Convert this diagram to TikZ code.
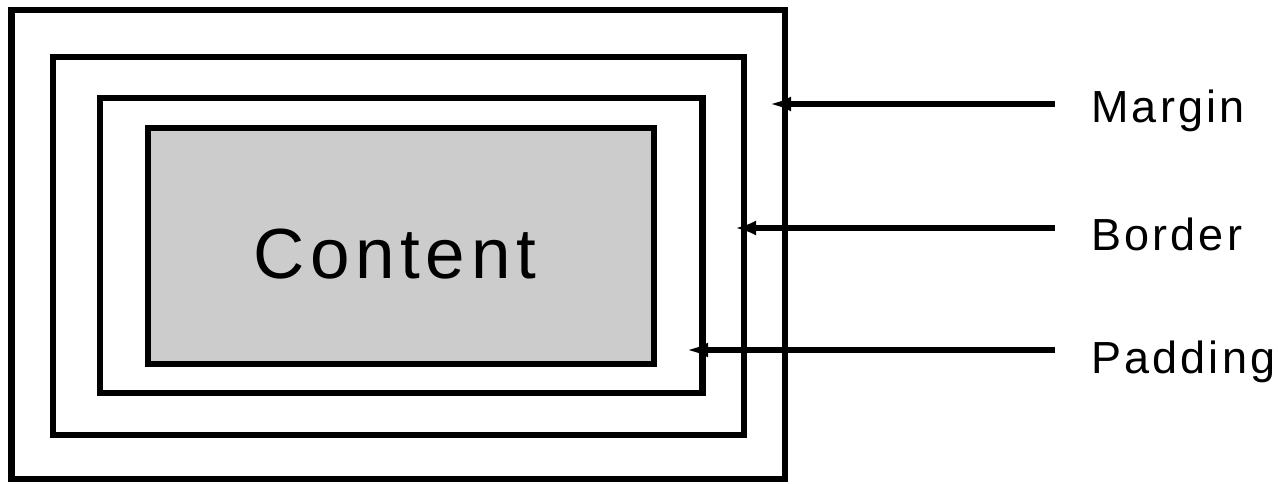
\documentclass[tikz,border=0pt]{standalone}
\usepackage{fontspec}
\setmainfont{Liberation Sans}
\usetikzlibrary{arrows.meta}
\begin{document}
\begin{tikzpicture}[>={Latex[length=0.42cm,width=0.3cm]}, line width=3.8pt,
  label/.style={anchor=base west, inner sep=0pt,
    font=\fontsize{25.6}{30}\selectfont\addfontfeature{LetterSpace=7}}]
\useasboundingbox (0,0) rectangle (25.56,-9.66);

\fill[gray!40] (2.96,-2.56) rectangle (13.08,-7.28);
\draw (0.23,-0.20) rectangle (15.70,-9.58);
\draw (1.06,-1.14) rectangle (14.88,-8.70);
\draw (2.00,-1.96) rectangle (14.05,-7.86);
\draw (2.96,-2.56) rectangle (13.08,-7.28);

\node (content) [anchor=base west, inner sep=0pt] at (5.00,-5.56)
  {\fontsize{40.4}{46}\selectfont\addfontfeature{LetterSpace=8}Content};

\coordinate (margintip)  at (15.40,-2.08);
\coordinate (bordertip)  at (14.70,-4.56);
\coordinate (paddingtip) at (13.74,-7.00);

\node (margin)  [label] at (21.76,-2.44) {Margin};
\node (border)  [label] at (21.76,-5.00) {Border};
\node (padding) [label] at (21.76,-7.46) {Padding};

\draw[->] (21.10,-2.08) -- (margintip);
\draw[->] (21.10,-4.56) -- (bordertip);
\draw[->] (21.10,-7.00) -- (paddingtip);

\end{tikzpicture}
\end{document}
